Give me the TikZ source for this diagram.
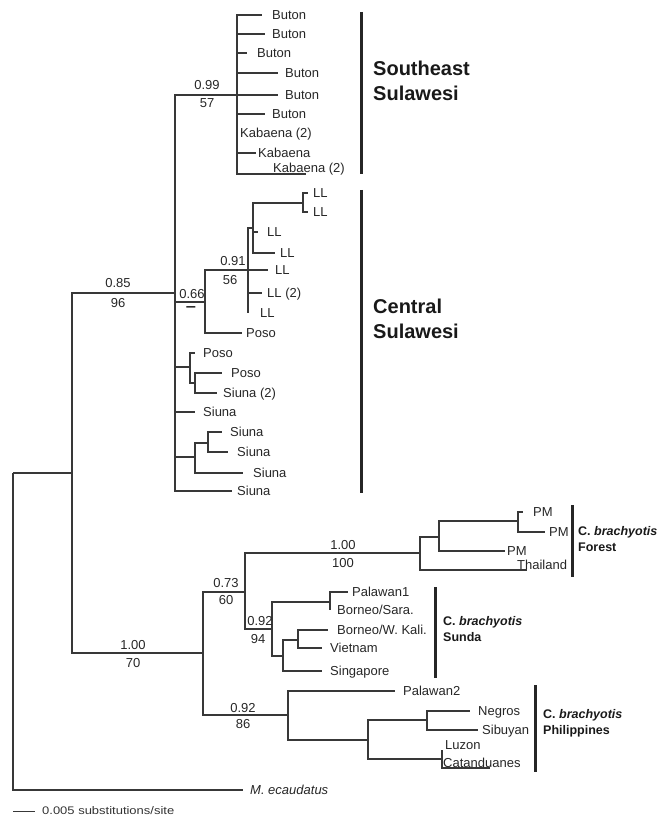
\documentclass[tikz,border=0pt]{standalone}
\usepackage{fontspec}
\setmainfont{Liberation Sans}
\newcommand{\lf}[5]{\coordinate (#1) at (#2,#3); \node[leaf] (#1t) at (#4,#3) {#5};}
\begin{document}
\begin{tikzpicture}[x=1pt,y=-1pt,
 br/.style={draw=black!78,line width=1.1pt},
 leaf/.style={anchor=west,inner sep=0pt,text height=9.3pt,text depth=0pt,font=\fontsize{13}{15}\selectfont,text=black!85},
 sup/.style={inner sep=0pt,text height=9.3pt,text depth=0pt,font=\fontsize{13}{15}\selectfont,text=black!85},
 grp/.style={anchor=west,inner sep=0pt,align=left,font=\bfseries\fontsize{20}{25}\selectfont,text=black!90},
 grps/.style={anchor=west,inner sep=0pt,align=left,font=\bfseries\fontsize{12.5}{16}\selectfont,text=black!90},
 bar/.style={draw=black!85,line width=3pt}]
\useasboundingbox (0,0) rectangle (664,818);
% internal nodes
\coordinate (R) at (13,473);
\coordinate (I) at (72,473);
\coordinate (S) at (175,293);
\coordinate (SE) at (237,95);
\coordinate (C66) at (205,302);
\coordinate (C91) at (248,270);
\coordinate (CL) at (253,228);
\coordinate (CLL) at (303,203);
\coordinate (P1) at (190,367);
\coordinate (P1b) at (195,383);
\coordinate (P2) at (195,457);
\coordinate (P2a) at (208,443);
\coordinate (B) at (203,653);
\coordinate (B73) at (245,592);
\coordinate (F) at (420,553);
\coordinate (F1) at (439,537);
\coordinate (F2) at (518,521);
\coordinate (Su) at (272,629);
\coordinate (Su1) at (330,602);
\coordinate (Su2) at (283,656);
\coordinate (Su3) at (298,640);
\coordinate (BP) at (288,715);
\coordinate (BP1) at (368,740);
\coordinate (BP2) at (427,720);
\coordinate (BP3) at (442,759);
% leaves
\lf{s1}{262}{15}{272}{Buton}
\lf{s2}{265}{34}{272}{Buton}
\lf{s3}{247}{53}{257}{Buton}
\lf{s4}{278}{73}{285}{Buton}
\lf{s5}{278}{95}{285}{Buton}
\lf{s6}{265}{114}{272}{Buton}
\lf{s7}{237}{133}{240}{Kabaena (2)}
\lf{s8}{256}{153}{258}{Kabaena}
\coordinate (s9) at (306,174); \node[leaf] (s9t) at (273,168) {Kabaena (2)};
\lf{c1}{242}{333}{246}{Poso}
\lf{c2}{268}{270}{275}{LL}
\lf{c3}{262}{293}{267}{LL (2)}
\lf{c4}{248}{313}{260}{LL}
\lf{c5}{258}{232}{267}{LL}
\lf{c6}{275}{253}{280}{LL}
\lf{c7}{308}{193}{313}{LL}
\lf{c8}{308}{212}{313}{LL}
\lf{d1}{195}{353}{203}{Poso}
\lf{d2}{222}{373}{231}{Poso}
\lf{d3}{217}{393}{223}{Siuna (2)}
\lf{d4}{195}{412}{203}{Siuna}
\lf{d5}{243}{473}{253}{Siuna}
\lf{d6}{222}{432}{230}{Siuna}
\lf{d7}{228}{452}{237}{Siuna}
\lf{d8}{232}{491}{237}{Siuna}
\coordinate (f1) at (527,570); \node[leaf] (f1t) at (517,565) {Thailand};
\lf{f2}{505}{551}{507}{PM}
\lf{f3}{523}{512}{533}{PM}
\lf{f4}{545}{532}{549}{PM}
\lf{u1}{348}{592}{352}{Palawan1}
\lf{u2}{330}{610}{337}{Borneo/Sara.}
\lf{u3}{328}{630}{337}{Borneo/W. Kali.}
\lf{u4}{322}{648}{330}{Vietnam}
\lf{u5}{322}{671}{330}{Singapore}
\lf{p1}{395}{691}{403}{Palawan2}
\lf{p2}{470}{711}{478}{Negros}
\lf{p3}{478}{730}{482}{Sibuyan}
\coordinate (p4) at (442,750); \node[leaf] (p4t) at (445,745) {Luzon};
\coordinate (p5) at (490,768); \node[leaf] (p5t) at (443,763) {Catanduanes};
\lf{aM}{243}{790}{250}{\itshape M. ecaudatus}
% branches
\draw[br] (R) |- (I);
\draw[br] (R) |- (aM);
\draw[br] (I) |- (S);
\draw[br] (I) |- (B);
\foreach \c in {SE,C66,P1,d4,P2,d8} \draw[br] (S) |- (\c);
\foreach \c in {s1,s2,s3,s4,s5,s6,s7,s8,s9} \draw[br] (SE) |- (\c);
\foreach \c in {C91,c1} \draw[br] (C66) |- (\c);
\foreach \c in {CL,c2,c3,c4} \draw[br] (C91) |- (\c);
\foreach \c in {CLL,c5,c6} \draw[br] (CL) |- (\c);
\foreach \c in {c7,c8} \draw[br] (CLL) |- (\c);
\foreach \c in {d1,P1b} \draw[br] (P1) |- (\c);
\foreach \c in {d2,d3} \draw[br] (P1b) |- (\c);
\foreach \c in {P2a,d5} \draw[br] (P2) |- (\c);
\foreach \c in {d6,d7} \draw[br] (P2a) |- (\c);
\foreach \c in {B73,BP} \draw[br] (B) |- (\c);
\foreach \c in {F,Su} \draw[br] (B73) |- (\c);
\foreach \c in {F1,f1} \draw[br] (F) |- (\c);
\foreach \c in {F2,f2} \draw[br] (F1) |- (\c);
\foreach \c in {f3,f4} \draw[br] (F2) |- (\c);
\foreach \c in {Su1,Su2} \draw[br] (Su) |- (\c);
\foreach \c in {u1,u2} \draw[br] (Su1) |- (\c);
\foreach \c in {Su3,u5} \draw[br] (Su2) |- (\c);
\foreach \c in {u3,u4} \draw[br] (Su3) |- (\c);
\foreach \c in {p1,BP1} \draw[br] (BP) |- (\c);
\foreach \c in {BP2,BP3} \draw[br] (BP1) |- (\c);
\foreach \c in {p2,p3} \draw[br] (BP2) |- (\c);
\foreach \c in {p4,p5} \draw[br] (BP3) |- (\c);
% support values
\node[sup] (l1a) at (118,283) {0.85}; \node[sup] (l1b) at (118,303) {96};
\node[sup] (l2a) at (207,85) {0.99}; \node[sup] (l2b) at (207,103) {57};
\node[sup] (l3a) at (192,294) {0.66};
\node[inner sep=0pt,text height=2pt,text depth=0pt,font=\bfseries\fontsize{13}{13}\selectfont,text=black!85] (l3b) at (191,310.5) {\scalebox{1.4}[1.2]{–}};
\node[sup] (l4a) at (233,261) {0.91}; \node[sup] (l4b) at (230,280) {56};
\node[sup] (l5a) at (133,645) {1.00}; \node[sup] (l5b) at (133,663) {70};
\node[sup] (l6a) at (226,583) {0.73}; \node[sup] (l6b) at (226,600) {60};
\node[sup] (l7a) at (260,621) {0.92}; \node[sup] (l7b) at (258,639) {94};
\node[sup] (l8a) at (243,708) {0.92}; \node[sup] (l8b) at (243,724) {86};
\node[sup] (l9a) at (343,545) {1.00}; \node[sup] (l9b) at (343,563) {100};
% group bars and labels
\draw[bar] (361,12) -- (361,174);
\draw[bar] (361,190) -- (361,493);
\draw[bar] (572,505) -- (572,577);
\draw[bar] (435,587) -- (435,678);
\draw[bar] (535,685) -- (535,772);
\node[grp] (g1) at (373,80.5) {Southeast\\Sulawesi};
\node[grp] (g2) at (373,318.5) {Central\\Sulawesi};
\node[grps] (g3) at (578,539) {C. \textit{brachyotis}\\Forest};
\node[grps] (g4) at (443,629.5) {C. \textit{brachyotis}\\Sunda};
\node[grps] (g5) at (543,723.5) {C. \textit{brachyotis}\\Philippines};
% scale bar
\coordinate (sb1) at (13,811); \coordinate (sb2) at (35,811);
\draw[draw=black!78,line width=1pt] (sb1) -- (sb2);
\node[anchor=west,inner sep=0pt,font=\fontsize{11}{13}\selectfont,text=black!80] (sbt) at (42,811) {\scalebox{1.18}[1]{0.005 substitutions/site}};
\end{tikzpicture}
\end{document}
